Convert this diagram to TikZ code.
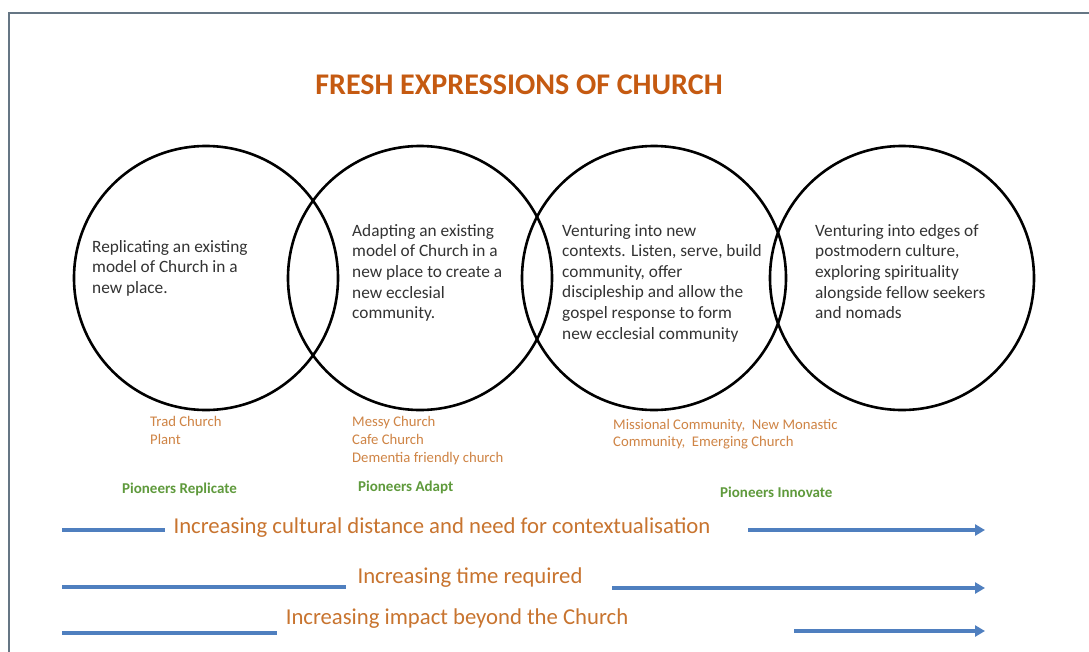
\documentclass[tikz,border=0pt]{standalone}
\usepackage{fontspec}
\setmainfont{Carlito}
\usetikzlibrary{arrows.meta}
\definecolor{titleor}{HTML}{C55A11}
\definecolor{lblor}{HTML}{CF8445}
\definecolor{arrtxt}{HTML}{C8742F}
\definecolor{pgreen}{HTML}{5F9A3C}
\definecolor{ablue}{HTML}{4F7FBF}
\definecolor{frame}{HTML}{657684}
\definecolor{body}{HTML}{333333}
\tikzset{
  venn/.style={draw=black, line width=2.6pt, circle, minimum size=264pt, inner sep=0pt},
  bodytxt/.style={anchor=north west, align=left, inner sep=0pt, text=body,
    font=\fontsize{17.3}{20.6}\selectfont},
  lbl/.style={anchor=north west, align=left, inner sep=0pt, text=lblor,
    font=\fontsize{14.7}{18}\selectfont},
  pio/.style={anchor=west, inner sep=0pt, text=pgreen, font=\bfseries\fontsize{15}{18}\selectfont},
  arrtext/.style={inner sep=0pt, text=arrtxt, font=\fontsize{22.7}{26}\selectfont},
  bline/.style={draw=ablue, line width=3.4pt},
  barrow/.style={bline, -{Triangle[length=10pt,width=11pt]}},
}
\begin{document}
\begin{tikzpicture}[x=1pt,y=-1pt]
\useasboundingbox (0,0) rectangle (1089,651);
\clip (0,0) rectangle (1089,651);
\fill[white] (0,0) rectangle (1089,651);
\coordinate (fr1) at (9,700);
\coordinate (fr2) at (9,13);
\coordinate (fr3) at (1120,13);
\draw[frame, line width=2.5pt] (fr1) -- (fr2) -- (fr3);

\node[text=titleor, font=\bfseries\fontsize{30}{34}\selectfont, inner sep=0pt] (title) at (519,85) {FRESH EXPRESSIONS OF CHURCH};

\node[venn] (c1) at (206,278) {};
\node[venn] (c2) at (420,278) {};
\node[venn] (c3) at (654,278) {};
\node[venn] (c4) at (902,278) {};

\node[bodytxt] (t1) at (92,240) {Replicating an existing\\model of Church in a\\new place.};
\node[bodytxt] (t2) at (352,224) {Adapting an existing\\model of Church in a\\new place to create a\\new ecclesial\\community.};
\node[bodytxt] (t3) at (562,224) {Venturing into new\\contexts. Listen, serve, build\\community, offer\\discipleship and allow the\\gospel response to form\\new ecclesial community};
\node[bodytxt] (t4) at (815,224) {Venturing into edges of\\postmodern culture,\\exploring spirituality\\alongside fellow seekers\\and nomads};

\node[lbl] (l1) at (150,416) {Trad Church\\Plant};
\node[lbl] (l2) at (352,416) {Messy Church\\Cafe Church\\Dementia friendly church};
\node[lbl, font=\fontsize{14.7}{17.3}\selectfont] (l3) at (613,419) {Missional Community,\ \ New Monastic\\Community,\ \ Emerging Church};

\node[pio] (p1) at (122,489) {Pioneers Replicate};
\node[pio] (p2) at (358,487) {Pioneers Adapt};
\node[pio] (p3) at (720,492) {Pioneers Innovate};

\node[arrtext] (r1) at (442,528) {Increasing cultural distance and need for contextualisation};
\node[arrtext] (r2) at (470,578) {Increasing time required};
\node[arrtext] (r3) at (457,619) {Increasing impact beyond the Church};

\coordinate (a1s) at (62,530); \coordinate (a1m) at (165,530);
\coordinate (a1n) at (748,530); \coordinate (a1e) at (985,530);
\coordinate (a2s) at (62,587); \coordinate (a2m) at (346,587);
\coordinate (a2n) at (612,588); \coordinate (a2e) at (985,588);
\coordinate (a3s) at (62,633); \coordinate (a3m) at (277,633);
\coordinate (a3n) at (794,631); \coordinate (a3e) at (985,631);
\draw[bline] (a1s) -- (a1m);
\draw[barrow] (a1n) -- (a1e);
\draw[bline] (a2s) -- (a2m);
\draw[barrow] (a2n) -- (a2e);
\draw[bline] (a3s) -- (a3m);
\draw[barrow] (a3n) -- (a3e);
\end{tikzpicture}
\end{document}
